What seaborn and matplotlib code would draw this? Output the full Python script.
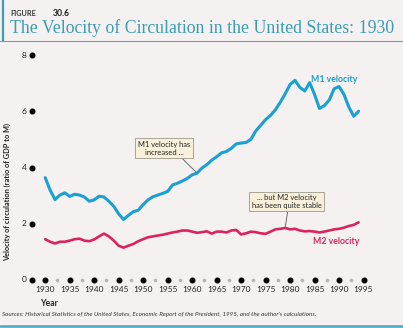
import matplotlib
matplotlib.use("Agg")
import matplotlib.pyplot as plt
import matplotlib.transforms as mtransforms
import seaborn as sns
import pandas as pd

# Velocity of money, annual values
years = list(range(1930, 1995))
m1_velocity = [
    3.64, 3.20, 2.86, 3.02, 3.10, 2.97, 3.05, 3.02, 2.95, 2.80,
    2.85, 2.98, 2.95, 2.80, 2.62, 2.35, 2.15, 2.30, 2.43, 2.48,
    2.68, 2.85, 2.96, 3.02, 3.08, 3.15, 3.38, 3.44, 3.52, 3.61,
    3.74, 3.80, 3.98, 4.10, 4.26, 4.38, 4.52, 4.57, 4.68, 4.84,
    4.87, 4.89, 5.00, 5.30, 5.50, 5.70, 5.85, 6.05, 6.32, 6.62,
    6.95, 7.10, 6.85, 6.72, 7.02, 6.60, 6.10, 6.20, 6.40, 6.80,
    6.88, 6.60, 6.15, 5.82, 6.00,
]
m2_velocity = [
    1.45, 1.36, 1.30, 1.36, 1.36, 1.40, 1.45, 1.47, 1.40, 1.38,
    1.44, 1.55, 1.65, 1.55, 1.40, 1.22, 1.15, 1.22, 1.28, 1.38,
    1.45, 1.52, 1.55, 1.58, 1.61, 1.65, 1.69, 1.72, 1.76, 1.76,
    1.72, 1.68, 1.70, 1.73, 1.65, 1.72, 1.72, 1.69, 1.76, 1.78,
    1.62, 1.66, 1.72, 1.70, 1.66, 1.64, 1.72, 1.80, 1.82, 1.85,
    1.80, 1.82, 1.76, 1.73, 1.74, 1.72, 1.69, 1.72, 1.76, 1.80,
    1.82, 1.86, 1.92, 1.96, 2.05,
]
series_names = ["M1 velocity", "M2 velocity"]
y_ticks = [0, 2, 4, 6, 8]
x_ticks = list(range(1930, 2000, 5))
x_minor = [y + 2.5 for y in range(1930, 1995, 5)]

CYAN = "#1aa0d2"
CRIMSON = "#d9245f"
TEAL = "#3a9db4"
PAPER = "#f6f1f1"
INK = "#222222"

df = pd.DataFrame({
    "year": years * 2,
    "velocity": m1_velocity + m2_velocity,
    "series": [series_names[0]] * len(years) + [series_names[1]] * len(years),
})

sns.set_theme(style="white")
plt.rcParams["font.family"] = ["Lato", "DejaVu Sans"]

W, H = 403, 328
fig = plt.figure(figsize=(W / 100, H / 100), dpi=100, facecolor=PAPER)

# axes placed in pixel terms
ax_left, ax_right, ax_top, ax_bottom = 31.5, 388.0, 55.0, 280.0
ax = fig.add_axes([ax_left / W, (H - ax_bottom) / H,
                   (ax_right - ax_left) / W, (ax_bottom - ax_top) / H])
ax.set_facecolor(PAPER)

sns.lineplot(data=df, x="year", y="velocity", hue="series",
             palette={series_names[0]: CYAN, series_names[1]: CRIMSON},
             ax=ax, legend=False, linewidth=2.1)
for line, lw in zip(ax.lines, [2.2, 1.9]):
    line.set_linewidth(lw)

x0 = 1927.2
ax.set_xlim(x0, 2000)
ax.set_ylim(0, 8)
for s in ax.spines.values():
    s.set_visible(False)

# dotted axes: large dots on ticks, small grey dots in between
ax.plot([x0] * len(y_ticks), y_ticks, "o", color="black", ms=3.3, clip_on=False)
ax.plot(x_ticks, [0] * len(x_ticks), "o", color="black", ms=3.3, clip_on=False)
ax.plot(x_minor, [0] * len(x_minor), "o", color="#b5b5b5", ms=1.6, clip_on=False)

ax.set_yticks([])
ax.set_xticks(x_ticks)
ax.set_xticklabels([str(v) for v in x_ticks])
ax.tick_params(axis="x", length=0, labelsize=6, colors=INK, pad=4)
ax.set_xlabel("")
ax.set_ylabel("")

# y tick labels sit just left of the dots
shift = mtransforms.ScaledTranslation(-5 / 100, 0, fig.dpi_scale_trans)
for v in y_ticks:
    ax.text(x0, v, str(v), transform=ax.transData + shift, fontsize=6,
            color=INK, ha="right", va="center", clip_on=False)

# series labels
ax.text(1989.0, 7.14, "M1 velocity", color=CYAN, fontsize=6.3,
        fontweight="bold", ha="center", va="center")
ax.text(1989.4, 1.36, "M2 velocity", color=CRIMSON, fontsize=6.3,
        fontweight="bold", ha="center", va="center")

# call-out boxes
box = dict(boxstyle="square,pad=0.35", fc="#f8f0da", ec="#9c988a", lw=0.6)
i1 = years.index(1961)
ax.annotate("M1 velocity has\nincreased ...", xy=(1961, m1_velocity[i1]),
            xytext=(1954.3, 4.68), fontsize=5.4, color=INK,
            ha="center", va="center", linespacing=1.1, bbox=box,
            arrowprops=dict(arrowstyle="-", color="#555555", lw=0.6,
                            relpos=(0.79, 0.0), shrinkA=0, shrinkB=1))
i2 = years.index(1979)
ax.annotate("... but M2 velocity\nhas been quite stable", xy=(1979, m2_velocity[i2]),
            xytext=(1979.3, 2.79), fontsize=5.4, color=INK,
            ha="center", va="center", linespacing=1.1, bbox=box,
            arrowprops=dict(arrowstyle="-", color="#555555", lw=0.6,
                            relpos=(0.52, 0.0), shrinkA=0, shrinkB=1))

# header, axis titles and source line
fig.text(10 / W, 1 - 13 / H, "FIGURE", fontsize=5.2, fontweight="bold",
         color="#333333", va="center", ha="left")
fig.text(53 / W, 1 - 13 / H, "30.6", fontsize=6.2, fontweight="bold",
         color=INK, va="center", ha="left")
fig.text(10 / W, 1 - 28 / H, "The Velocity of Circulation in the United States: 1930",
         fontsize=12.8, color=TEAL, va="center", ha="left",
         family=["Liberation Serif", "DejaVu Serif"])
fig.text(7 / W, 1 - 192 / H, "Velocity of circulation (ratio of GDP to M)",
         rotation=90, fontsize=5.3, fontweight="bold", color=INK,
         va="center", ha="center")
fig.text(40 / W, 1 - 303 / H, "Year", fontsize=6.2, fontweight="bold",
         color=INK, va="center", ha="left")
fig.text(2 / W, 1 - 314 / H,
         "Sources: Historical Statistics of the United States, Economic Report of the President, 1995, and the author's calculations.",
         fontsize=4.5, style="italic", color="#333333", va="center", ha="left")

# decorative rules
fig.add_artist(plt.Line2D([2.5 / W, 2.5 / W], [1 - 0 / H, 1 - 41 / H],
                          color=TEAL, lw=1.6, transform=fig.transFigure))
fig.add_artist(plt.Line2D([0, 1], [1 - 41 / H, 1 - 41 / H],
                          color="#6f9ea8", lw=0.8, transform=fig.transFigure))
fig.add_artist(plt.Line2D([0, 1], [1 - 326 / H, 1 - 326 / H],
                          color="#4aa8bd", lw=1.8, transform=fig.transFigure))

fig.savefig("out.png", dpi=100, facecolor=PAPER)
